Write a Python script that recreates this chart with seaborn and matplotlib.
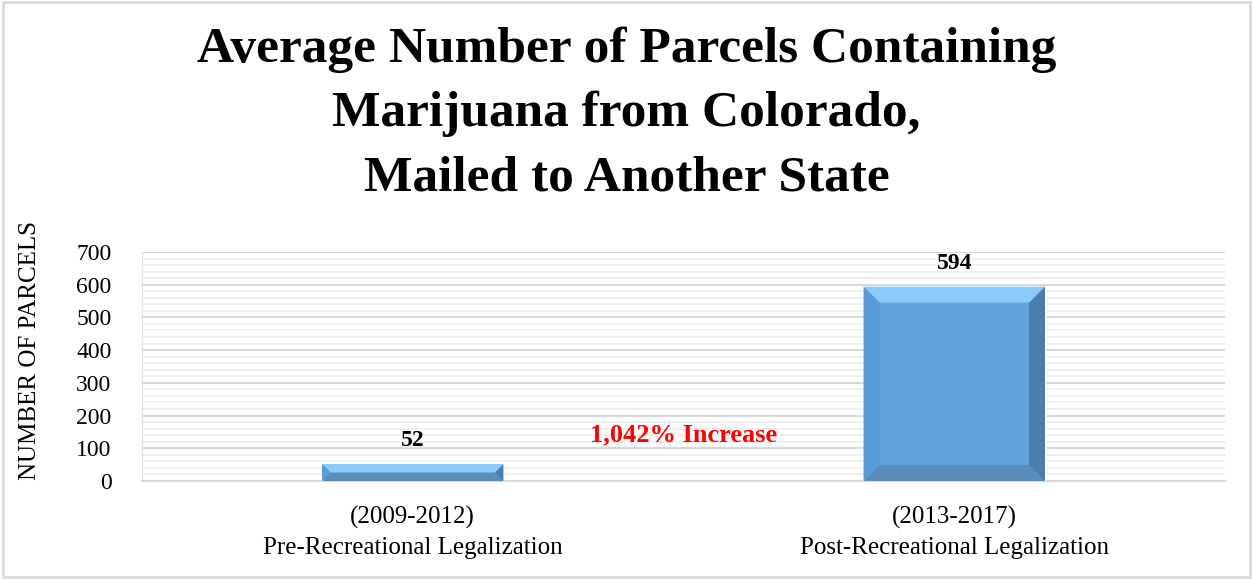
import matplotlib
matplotlib.use("Agg")
import matplotlib.pyplot as plt
import seaborn as sns
import pandas as pd
from matplotlib.patches import Polygon, Rectangle
from matplotlib.ticker import MultipleLocator

periods = ["(2009-2012)\nPre-Recreational Legalization",
           "(2013-2017)\nPost-Recreational Legalization"]
parcels = [52, 594]
increase_label = "1,042% Increase"
title = "Average Number of Parcels Containing\nMarijuana from Colorado,\nMailed to Another State"

df = pd.DataFrame({"period": periods, "parcels": parcels})

sns.set_style("white")
plt.rcParams["font.family"] = ["Liberation Serif", "DejaVu Serif"]
plt.rcParams["text.color"] = "black"
plt.rcParams["axes.labelcolor"] = "black"
plt.rcParams["xtick.color"] = "black"
plt.rcParams["ytick.color"] = "black"

fig = plt.figure(figsize=(12.53, 5.79), dpi=100)
ax = fig.add_axes([0.1133, 0.1693, 0.8644, 0.3955])

sns.barplot(data=df, x="period", y="parcels", color="#62A3DE", width=0.335,
            saturation=1, ax=ax, zorder=3)

ax.set_ylim(0, 700)
ax.yaxis.set_major_locator(MultipleLocator(100))
ax.yaxis.set_minor_locator(MultipleLocator(20))
ax.grid(which="major", axis="y", color="#D9D9D9", lw=1.5, zorder=0)
ax.grid(which="minor", axis="y", color="#EDEDED", lw=1.2, zorder=0)
ax.set_axisbelow(True)
for s in ["top", "right"]:
    ax.spines[s].set_visible(False)
ax.spines["left"].set_color("#E3E3E3")
ax.spines["bottom"].set_color("#D9D9D9")
ax.spines["bottom"].set_linewidth(1.5)

ax.tick_params(axis="y", which="both", length=0, labelsize=17, pad=22)
ax.tick_params(axis="x", length=0, labelsize=18, pad=18)
for lbl in ax.get_xticklabels():
    lbl.set_linespacing(1.45)
ax.set_xlabel("")
ax.set_ylabel("NUMBER OF PARCELS", fontsize=18)
ax.yaxis.set_label_coords(-0.103, 0.57)
ax.yaxis.label.set_va("center")

# bevel effect on each bar, built from the bar patches seaborn drew
fig.canvas.draw()
to_data = ax.transData.inverted()
for bar, val in zip(ax.patches, parcels):
    x0, y0 = bar.get_x(), bar.get_y()
    w, h = bar.get_width(), bar.get_height()
    px0, py0 = ax.transData.transform((x0, y0))
    px1, py1 = ax.transData.transform((x0 + w, y0 + h))
    b = min(16, (py1 - py0) / 2)
    corners = [(px0, py0), (px1, py0), (px1, py1), (px0, py1)]
    inner = [(px0 + b, py0 + b), (px1 - b, py0 + b), (px1 - b, py1 - b), (px0 + b, py1 - b)]
    cols = ["#5B8DBA", "#4A7EAD", "#8ACBFB", "#5B9BD5"]  # bottom, right, top, left
    for i, c in enumerate(cols):
        pts = [corners[i], corners[(i + 1) % 4], inner[(i + 1) % 4], inner[i]]
        pts = [to_data.transform(p) for p in pts]
        ax.add_patch(Polygon(pts, closed=True, facecolor=c, edgecolor="none", zorder=4))
    ax.annotate(f"{val}", (x0 + w / 2, y0 + h), xytext=(0, 17), textcoords="offset points",
                ha="center", va="center", fontsize=17, fontweight="bold", color="black")

ax.text(0.5, 142, increase_label, color="#FF0000", fontsize=19, fontweight="bold",
        ha="center", va="center")

fig.text(0.5, 0.955, title, ha="center", va="top", fontsize=37, fontweight="bold",
         linespacing=1.52)

fig.patches.append(Rectangle((0.002, 0.004), 0.996, 0.992, transform=fig.transFigure,
                             fill=False, edgecolor="#D9D9D9", lw=2))

fig.savefig("out.png", dpi=100)
